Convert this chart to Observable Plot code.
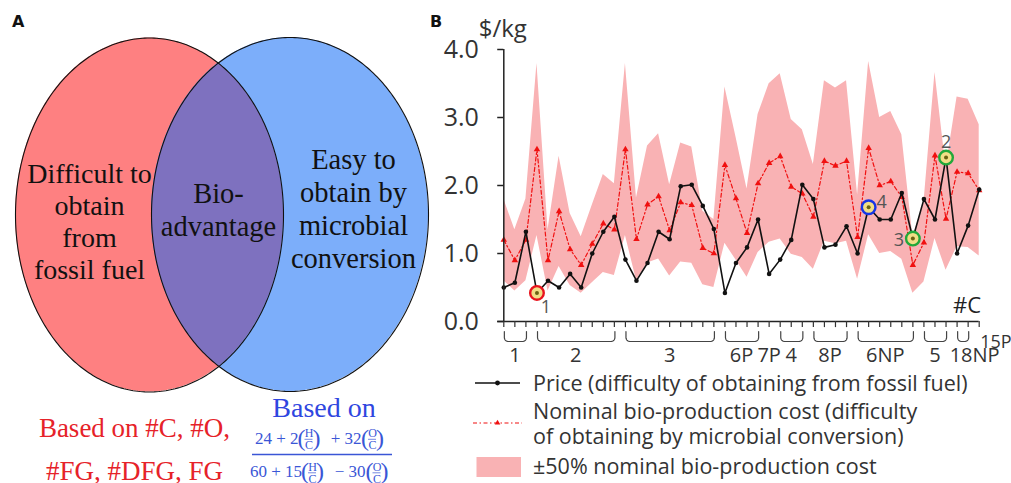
<!DOCTYPE html>
<html>
<head>
<meta charset="utf-8">
<script src="https://cdn.jsdelivr.net/npm/d3@7"></script>
<script src="https://cdn.jsdelivr.net/npm/@observablehq/plot@0.6"></script>
<style>
  html, body { margin:0; padding:0; background:#fff; }
  #root { position:relative; width:1011px; height:483px; overflow:hidden; background:#fff; }
  .abs { position:absolute; }
  .panel-letter { font-family:"DejaVu Sans", sans-serif; font-weight:bold; font-size:16px; color:#111; }
  .leg { font-family:"Open Sans", sans-serif; font-size:21.5px; color:#333; white-space:pre; line-height:25px; }
</style>
</head>
<body>
<div id="root"></div>
<script>
// ================= DATA (panel B) =================
const compoundIndex = d3.range(44);
const price = [0.50,0.57,1.32,0.42,0.60,0.50,0.70,0.50,1.00,1.32,
               1.54,0.91,0.60,0.86,1.32,1.21,1.99,2.01,1.70,1.36,
               0.42,0.86,1.09,1.50,0.70,0.91,1.20,2.01,1.80,1.09,
               1.13,1.40,1.00,1.68,1.50,1.50,1.89,1.22,1.80,1.50,
               2.41,1.00,1.41,1.94];
const nominalCost = [1.20,0.90,1.20,2.53,0.90,1.62,1.06,0.83,1.14,1.44,
                     1.35,2.53,1.21,1.72,1.84,1.34,1.75,1.71,1.08,1.00,
                     2.30,1.81,1.30,2.03,2.33,2.43,1.98,1.88,1.54,2.36,
                     2.29,2.36,1.24,2.55,2.00,2.06,1.83,0.83,1.16,2.44,
                     1.51,2.20,2.18,1.93];
const bandFraction = 0.5;
const groupNames = ["1","2","3","6P","7P","4","8P","6NP","5","18NP","15P"];
const groupStart = [0,3,11,20,24,25,28,32,38,41,43];
const groupEnd   = [2,10,19,23,24,27,31,37,40,42,43];
const yTickValues = [0,1,2,3,4];
const highlightIndex = [3,40,37,33];
const highlightLabel = ["1","2","3","4"];
const yUnitLabel = "$/kg";
const xUnitLabel = "#C";
const legendLabels = [
  "Price (difficulty of obtaining from fossil fuel)",
  "Nominal bio-production cost (difficulty\nof obtaining by microbial conversion)",
  "±50% nominal bio-production cost"
];

// ================= DATA (panel A) =================
const vennLeftText = ["Difficult to","obtain","from","fossil fuel"];
const vennMiddleText = ["Bio-","advantage"];
const vennRightText = ["Easy to","obtain by","microbial","conversion"];
const basisLeftText = ["Based on #C, #O,","#FG, #DFG, FG"];
const basisRightTitle = "Based on";
const formulaNumerator = ["24 + 2","H","C","+ 32","O","C"];
const formulaDenominator = ["60 + 15","H","C","− 30","O","C"];

// ================= STYLE / LAYOUT =================
const highlightStyle = {
  "1": {stroke:"#e8141e", dx: 9, dy: 14},
  "2": {stroke:"#22a83a", dx: 0, dy:-15},
  "3": {stroke:"#22a83a", dx:-14, dy: 2},
  "4": {stroke:"#1636e6", dx: 13, dy:-5}
};
const root = document.getElementById("root");

// ---------- Panel B ----------
const rows = compoundIndex.map(i => ({
  i, price: price[i], nominal: nominalCost[i],
  lo: nominalCost[i] * (1 - bandFraction), hi: nominalCost[i] * (1 + bandFraction)
}));
const groups = groupNames.map((name, k) => ({name, start: groupStart[k], end: groupEnd[k]}));
const hl = highlightIndex.map((i, k) => ({i, v: price[i], label: highlightLabel[k]}));

// brace shapes under the axis (one per multi-compound group)
const rxU = 0.36, ryU = 0.059, yTop = -0.147, yBot = -0.294;
const bracketRows = groups.filter(g => g.end > g.start).flatMap(g => {
  const a = g.start + 0.05, b = g.end + 0.05, pts = [];
  pts.push([a, yTop]);
  for (let t = 0; t <= 90; t += 10) {
    const r = t * Math.PI / 180;
    pts.push([a + rxU - rxU * Math.cos(r), (yBot + ryU) - ryU * Math.sin(r)]);
  }
  for (let t = 90; t >= 0; t -= 10) {
    const r = t * Math.PI / 180;
    pts.push([b - rxU + rxU * Math.cos(r), (yBot + ryU) - ryU * Math.sin(r)]);
  }
  pts.push([b, yTop]);
  return pts.map(([x, y]) => ({g: g.name, x, y}));
});

const FONT_B = "Open Sans";
const hlLabelMarks = hl.map(d => Plot.text([d], {
  x: "i", y: "v", text: "label", fontSize: 18, fill: "#555",
  dx: highlightStyle[d.label].dx, dy: highlightStyle[d.label].dy
}));
const plotB = Plot.plot({
  width: 581, height: 483,
  marginLeft: 73.3, marginRight: 32.3, marginTop: 49, marginBottom: 162,
  x: {domain: [0, 43], axis: null},
  y: {domain: [0, 4], axis: null},
  style: {background: "transparent", fontFamily: FONT_B, overflow: "visible"},
  marks: [
    Plot.areaY(rows, {x: "i", y1: "lo", y2: "hi", fill: "#f9b2b4"}),
    Plot.line(rows, {x: "i", y: "nominal", stroke: "#f01010", strokeWidth: 1.2, strokeDasharray: "4,2.5,1.5,2.5"}),
    Plot.dot(rows, {x: "i", y: "nominal", symbol: "triangle", r: 2.4, fill: "#f01010"}),
    Plot.line(rows, {x: "i", y: "price", stroke: "#111", strokeWidth: 1.6}),
    Plot.dot(rows, {x: "i", y: "price", r: 2.3, fill: "#111"}),
    Plot.dot(hl, {x: "i", y: "v", r: 6.8, fill: "#f1de86", stroke: d => highlightStyle[d.label].stroke, strokeWidth: 2.4}),
    Plot.dot(hl, {x: "i", y: "v", r: 2, fill: "#6a6212"}),
    ...hlLabelMarks,
    // axes
    Plot.ruleX([0], {y1: 0, y2: 4, stroke: "#222", strokeWidth: 1.5}),
    Plot.ruleY([0], {x1: -0.55, x2: 43, stroke: "#222", strokeWidth: 1.5}),
    Plot.ruleY(yTickValues, {y: d => d, x1: -0.55, x2: 0, stroke: "#222", strokeWidth: 1.5}),
    Plot.ruleX(compoundIndex, {x: d => d, y1: 0, y2: -0.09, stroke: "#333", strokeWidth: 1.2}),
    Plot.text(yTickValues, {x: 0, y: d => d, text: d => d.toFixed(1), textAnchor: "end", dx: -25, fontSize: 25, fill: "#333"}),
    Plot.text([yUnitLabel], {x: 0, y: 4.29, text: d => d, dx: -1, fontSize: 24, fill: "#333"}),
    Plot.text([xUnitLabel], {x: 43, y: 0.235, text: d => d, textAnchor: "end", dx: 2, fontSize: 22, fill: "#222"}),
    // group braces + labels
    Plot.line(bracketRows, {x: "x", y: "y", z: "g", stroke: "#444", strokeWidth: 1.2}),
    Plot.text(groups.filter(g => g.name !== "18NP" && g.name !== "15P"),
      {x: d => (d.start + d.end) / 2, y: -0.5, text: "name", fontSize: 20, fill: "#333"}),
    Plot.text(groups.filter(g => g.name === "18NP"),
      {x: d => (d.start + d.end) / 2, y: -0.5, text: "name", fontSize: 20, fill: "#333", dx: 12}),
    Plot.text(groups.filter(g => g.name === "15P"),
      {x: d => d.end, y: -0.3, text: "name", fontSize: 18, fill: "#333", textAnchor: "start", dx: 1})
  ]
});
plotB.style.position = "absolute";
plotB.style.left = "430px";
plotB.style.top = "0px";
root.appendChild(plotB);

// ---------- Panel A ----------
const L = {cx: 149, cy: 214.5, rx: 134, ry: 177};
const R = {cx: 289.5, cy: 214, rx: 138.5, ry: 177};
const fillRows = e => d3.range(0, 1.00001, 1 / 600).map(u => {
  const t = Math.PI * (1 - u);
  const h = e.ry * Math.sin(t);
  return {x: e.cx + e.rx * Math.cos(t), y1: e.cy - h, y2: e.cy + h};
});
const halfH = (e, x) => { const v = 1 - ((x - e.cx) / e.rx) ** 2; return v <= 0 ? 0 : e.ry * Math.sqrt(v); };
const lx0 = R.cx - R.rx, lx1 = L.cx + L.rx;
const lensRows = d3.range(0, 1.00001, 1 / 600).map(u => {
  const x = lx0 + (lx1 - lx0) * (1 - Math.cos(Math.PI * u)) / 2;
  return {x, y1: Math.max(L.cy - halfH(L, x), R.cy - halfH(R, x)), y2: Math.min(L.cy + halfH(L, x), R.cy + halfH(R, x))};
});
const outline = e => d3.range(0, 361, 1).map(a => {
  const r = a * Math.PI / 180;
  return {x: e.cx + e.rx * Math.cos(r), y: e.cy + e.ry * Math.sin(r)};
});
const SERIF = "Liberation Serif";
const BLUE = "#2f46e0";
const FBLUE = "#3a56d6";
const FS = 17;
const mainTok = (s, xEnd, y) => Plot.text([s], {x: xEnd, y, text: d => d, textAnchor: "end", fontSize: FS, fill: FBLUE, fontFamily: SERIF});
const parenL = (x, y) => Plot.text(["("], {x, y, text: d => d, fontSize: 24, fill: FBLUE, fontFamily: SERIF});
const parenR = (x, y) => Plot.text([")"], {x, y, text: d => d, fontSize: 24, fill: FBLUE, fontFamily: SERIF});
const small = (s, x, y) => Plot.text([s], {x, y, text: d => d, fontSize: 12, fill: FBLUE, fontFamily: SERIF});
const fracBar = (x1, x2, y) => Plot.ruleY([y], {x1, x2, stroke: FBLUE, strokeWidth: 0.7});
const stacked = (top, bot, x, y) => [parenL(x - 7.5, y - 0.5), small(top, x, y - 5), fracBar(x - 4, x + 4, y + 0.8), small(bot, x, y + 7), parenR(x + 7.5, y - 0.5)];
const plotA = Plot.plot({
  width: 430, height: 483, margin: 0,
  x: {domain: [0, 430], range: [0, 430], axis: null},
  y: {domain: [0, 483], range: [0, 483], axis: null},
  style: {background: "transparent", overflow: "visible"},
  marks: [
    Plot.areaY(fillRows(L), {x: "x", y1: "y1", y2: "y2", fill: "#fe8081"}),
    Plot.areaY(fillRows(R), {x: "x", y1: "y1", y2: "y2", fill: "#7caefa"}),
    Plot.areaY(lensRows, {x: "x", y1: "y1", y2: "y2", fill: "#7e71bf"}),
    Plot.line(outline(L), {x: "x", y: "y", stroke: "#111", strokeWidth: 1.1}),
    Plot.line(outline(R), {x: "x", y: "y", stroke: "#111", strokeWidth: 1.1}),
    Plot.text([vennLeftText.join("\n")], {x: 89, y: 220, text: d => d, fontFamily: SERIF, fontSize: 28, lineHeight: 32.2 / 28, fill: "#111"}),
    Plot.text([vennMiddleText.join("\n")], {x: 218, y: 208.5, text: d => d, fontFamily: SERIF, fontSize: 28.5, lineHeight: 33.3 / 28.5, fill: "#111"}),
    Plot.text([vennRightText.join("\n")], {x: 353, y: 207.5, text: d => d, fontFamily: SERIF, fontSize: 28.5, lineHeight: 32.8 / 28.5, fill: "#111"}),
    Plot.text([basisLeftText.join("\n")], {x: 134, y: 444.5, text: d => d, fontFamily: SERIF, fontSize: 27, lineHeight: 43 / 27, fill: "#e62229"}),
    Plot.text([basisRightTitle], {x: 323.5, y: 408, text: d => d, fontFamily: SERIF, fontSize: 28, fill: BLUE}),
    // numerator
    mainTok(formulaNumerator[0], 298, 438),
    ...stacked(formulaNumerator[1], formulaNumerator[2], 308.5, 438),
    mainTok(formulaNumerator[3], 361, 438),
    ...stacked(formulaNumerator[4], formulaNumerator[5], 372, 438),
    // main fraction bar
    Plot.ruleY([454], {x1: 252, x2: 392, stroke: FBLUE, strokeWidth: 1.4}),
    // denominator
    mainTok(formulaDenominator[0], 301.5, 471.5),
    ...stacked(formulaDenominator[1], formulaDenominator[2], 312, 471.5),
    mainTok(formulaDenominator[3], 365, 471.5),
    ...stacked(formulaDenominator[4], formulaDenominator[5], 376.5, 471.5)
  ]
});
plotA.style.position = "absolute";
plotA.style.left = "0px";
plotA.style.top = "0px";
root.insertBefore(plotA, plotB);

// ---------- panel letters ----------
const letA = document.createElement("div");
letA.className = "abs panel-letter"; letA.textContent = "A";
letA.style.left = "12px"; letA.style.top = "12px";
root.appendChild(letA);
const letB = document.createElement("div");
letB.className = "abs panel-letter"; letB.textContent = "B";
letB.style.left = "430px"; letB.style.top = "12px";
root.appendChild(letB);

// ---------- legend (below panel B) ----------
const ns = "http://www.w3.org/2000/svg";
function swatch(kind) {
  const s = document.createElementNS(ns, "svg");
  s.setAttribute("width", 50); s.setAttribute("height", 22);
  if (kind === 0) {
    s.innerHTML = '<line x1="2" x2="47" y1="11" y2="11" stroke="#111" stroke-width="1.6"/><circle cx="24.5" cy="11" r="2.4" fill="#111"/>';
  } else if (kind === 1) {
    s.innerHTML = '<line x1="0" x2="49" y1="11" y2="11" stroke="#f01010" stroke-width="1.2" stroke-dasharray="4,2.5,1.5,2.5"/><path d="M24.5,7.8 L27.3,12.6 L21.7,12.6 Z" fill="#f01010"/>';
  } else {
    s.innerHTML = '<rect x="3.5" y="1" width="44.5" height="20" fill="#f9b2b4"/>';
  }
  return s;
}
const legendLayout = [
  {sx: 473, sy: 372, tx: 533, ty: 370},
  {sx: 473, sy: 412, tx: 533, ty: 398},
  {sx: 473, sy: 456, tx: 533, ty: 453}
];
legendLabels.forEach((lab, k) => {
  const lay = legendLayout[k];
  const sw = swatch(k);
  sw.style.position = "absolute"; sw.style.left = lay.sx + "px"; sw.style.top = lay.sy + "px";
  root.appendChild(sw);
  const t = document.createElement("div");
  t.className = "abs leg"; t.textContent = lab;
  t.style.left = lay.tx + "px"; t.style.top = lay.ty + "px";
  root.appendChild(t);
});
</script>
</body>
</html>
